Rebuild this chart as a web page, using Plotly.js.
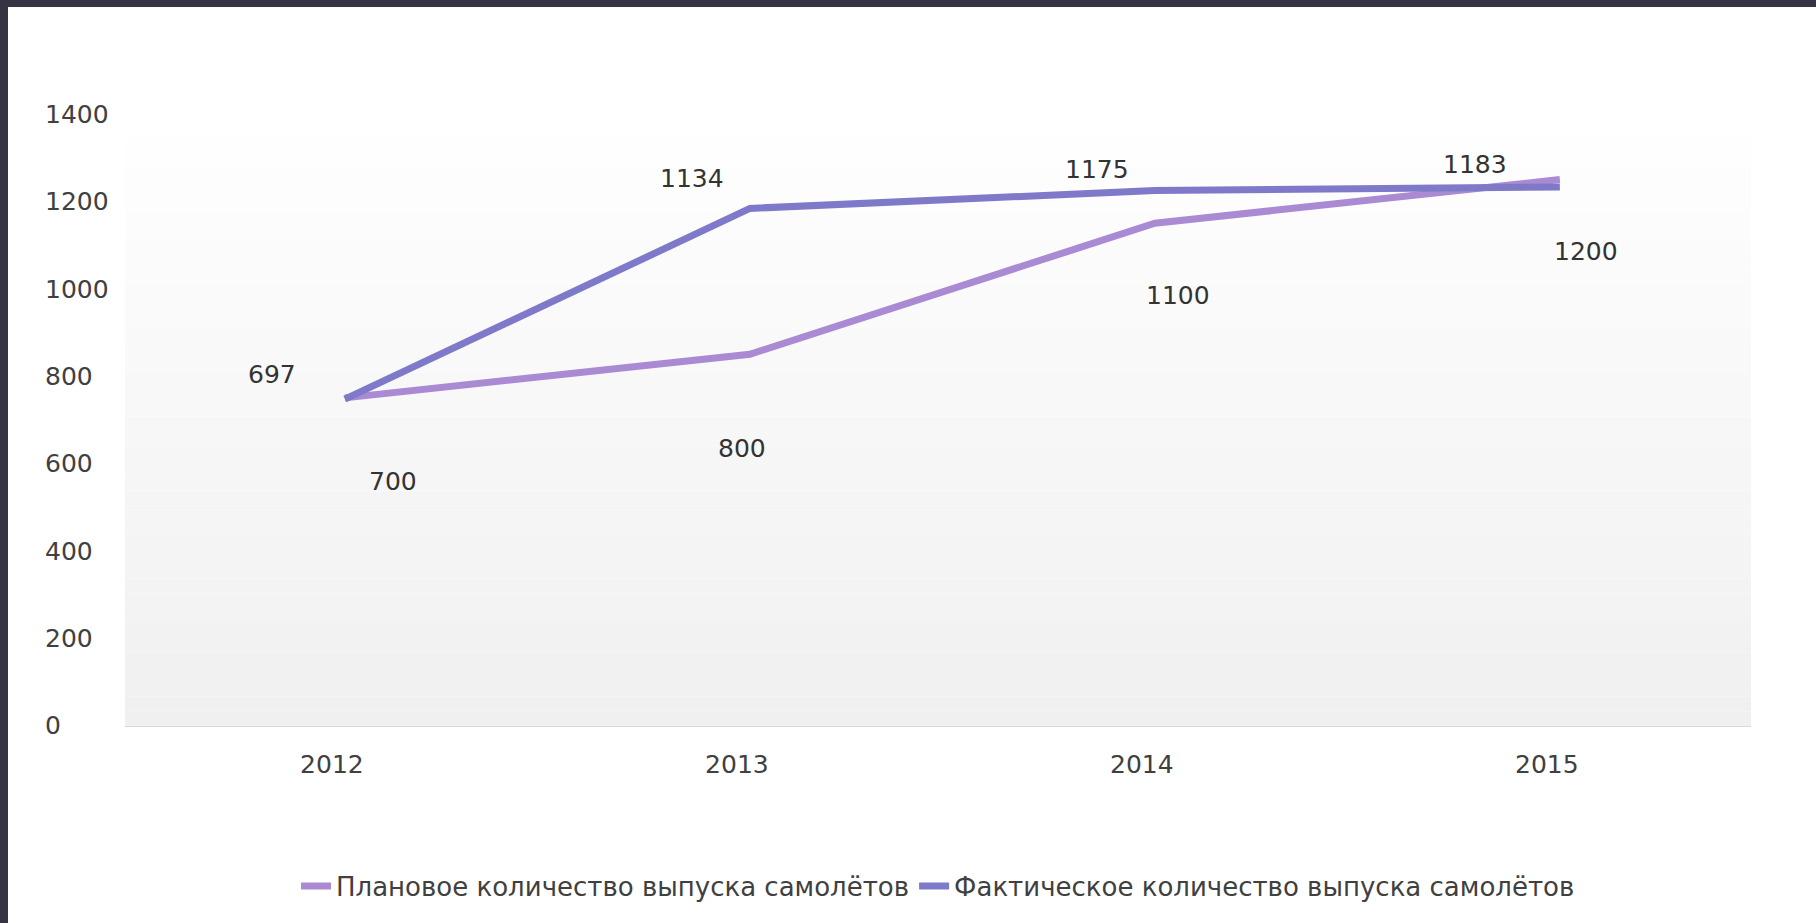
<!DOCTYPE html>
<html>
<head>
<meta charset="utf-8">
<script src="https://cdn.plot.ly/plotly-3.0.1.min.js"></script>
<style>
  html, body { margin: 0; padding: 0; background: #ffffff; overflow: hidden; }
  #chart { position: absolute; left: 0; top: 0; width: 1816px; height: 923px; }
  .frame-top { position: absolute; left: 0; top: 0; width: 1816px; height: 7px; background: #363343; z-index: 10; }
  .frame-left { position: absolute; left: 0; top: 0; width: 8px; height: 923px; background: #363343; z-index: 10; }
  #chart .ytick text { text-anchor: start !important; }
  #dbg { position: absolute; left: 20px; top: 20px; font: 14px monospace; color: red; z-index: 20; }
</style>
</head>
<body>
<div id="chart"></div>
<div class="frame-top"></div>
<div class="frame-left"></div>
<div id="dbg"></div>
<script>
// ---- data ----
const years = ['2012', '2013', '2014', '2015'];
const planned = [700, 800, 1100, 1200];
const actual = [697, 1134, 1175, 1183];
const seriesNames = ['Плановое количество выпуска самолётов', 'Фактическое количество выпуска самолётов'];
const yTickValues = [0, 200, 400, 600, 800, 1000, 1200, 1400];

// ---- style ----
const plannedColor = '#a98ad3';
const actualColor = '#7f79c9';
const font = 'DejaVu Sans, sans-serif';
const textColor = '#404040';

// label offsets (pixels) relative to each point
const plannedShift = [[48, -84], [-8, -94], [23, -72], [26, -72]];
const actualShift = [[-73, 25], [-58, 30], [-58, 21], [-85, 23]];

const traces = [
  { x: years, y: planned, name: seriesNames[0], type: 'scatter', mode: 'lines',
    line: { color: plannedColor, width: 7 }, hoverinfo: 'x+y' },
  { x: years, y: actual, name: seriesNames[1], type: 'scatter', mode: 'lines',
    line: { color: actualColor, width: 7 }, hoverinfo: 'x+y' }
];

const annotations = [];
for (let i = 0; i < years.length; i++) {
  annotations.push({ x: i, y: planned[i], xref: 'x', yref: 'y', text: String(planned[i]),
    showarrow: false, xshift: plannedShift[i][0], yshift: plannedShift[i][1],
    font: { family: font, size: 25, color: '#333333' } });
  annotations.push({ x: i, y: actual[i], xref: 'x', yref: 'y', text: String(actual[i]),
    showarrow: false, xshift: actualShift[i][0], yshift: actualShift[i][1],
    font: { family: font, size: 25, color: '#333333' } });
}

// gradient plot background as stacked bands
const shapes = [];
const bands = 40, topFrac = 0.926;
for (let k = 0; k < bands; k++) {
  const t = k / (bands - 1);
  const c = Math.round(240 + (254 - 240) * t);
  shapes.push({ type: 'rect', xref: 'paper', yref: 'paper', layer: 'below',
    x0: 0, x1: 1, y0: topFrac * k / bands, y1: topFrac * (k + 1) / bands,
    fillcolor: `rgb(${c},${c},${c})`, line: { width: 0 } });
}

const layout = {
  width: 1816, height: 923,
  margin: { l: 125, r: 65, t: 90, b: 197 },
  paper_bgcolor: '#ffffff', plot_bgcolor: '#ffffff',
  font: { family: font, size: 25, color: textColor },
  showlegend: true,
  legend: { orientation: 'h', x: 0.5, xanchor: 'center', y: -0.2516, yanchor: 'middle',
    font: { family: font, size: 26, color: textColor }, itemwidth: 30 },
  xaxis: { type: 'category', range: [-0.543, 3.472], showgrid: false, zeroline: false,
    showline: true, linecolor: '#d9d9d9', linewidth: 1, ticks: '',
    ticklabelshift: -13, ticklabelstandoff: 16,
    tickfont: { family: font, size: 25, color: textColor } },
  yaxis: { range: [-51.5, 1405.2], tickmode: 'array', tickvals: yTickValues,
    ticktext: yTickValues.map(String), showgrid: false, zeroline: false, showline: false,
    ticks: '', ticklabelshift: 22, ticklabelstandoff: 79,
    tickfont: { family: font, size: 25, color: textColor } },
  shapes: shapes,
  annotations: annotations
};

window.addEventListener('error', e => { document.getElementById('dbg').textContent += ' ERR ' + e.message; });
Plotly.newPlot('chart', traces, layout, { displayModeBar: false, staticPlot: true })
  .then(gd => {
    const n = gd.querySelectorAll('.annotation').length;
    if (n === 0) document.getElementById('dbg').textContent += ' no annotations';
  })
  .catch(err => { document.getElementById('dbg').textContent += ' ' + err; });
</script>
</body>
</html>
